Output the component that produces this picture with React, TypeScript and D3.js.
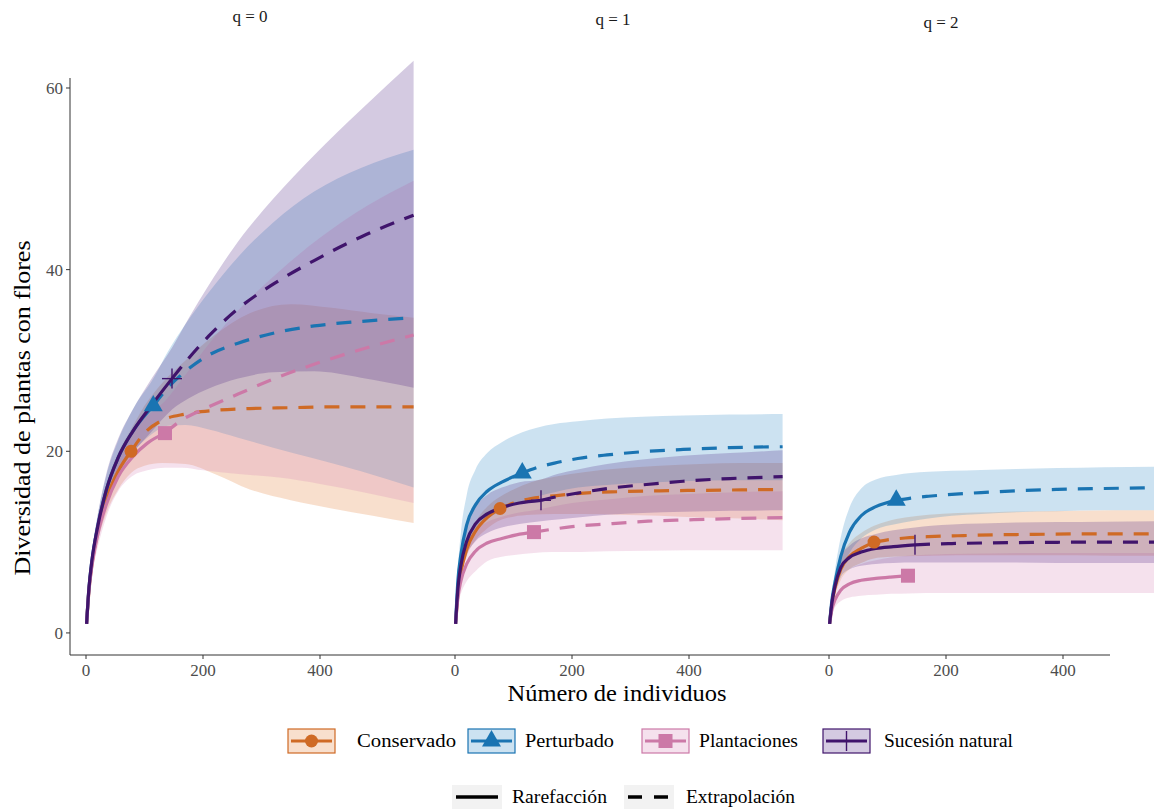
import React from "react";
import * as d3 from "d3";

// ---------- categories / labels ----------
const seriesNames = ["Conservado", "Perturbado", "Plantaciones", "Sucesión natural"];
const seriesColors = ["#CF6A25", "#1A74B2", "#CC79A7", "#40146C"];
const bandColors = ["#E07A2E", "#2A86C6", "#D483B3", "#4A2080"];
const facetLabels = ["q = 0", "q = 1", "q = 2"];
const xTicks = [0, 200, 400];
const yTicks = [0, 20, 40, 60];
const lineTypeLabels = ["Rarefacción", "Extrapolación"];

// ---------- sample sizes (x grids, index of observed point) ----------
const xCons = [1, 5, 10, 20, 35, 55, 77, 100, 130, 170, 220, 280, 350, 420, 490, 560];
const xPert = [1, 5, 10, 20, 35, 55, 80, 115, 140, 170, 210, 260, 320, 390, 470, 560];
const xPlan = [1, 5, 10, 20, 35, 55, 80, 105, 135, 165, 200, 260, 330, 400, 480, 560];
const xSuc = [1, 5, 10, 20, 35, 55, 80, 110, 147, 175, 210, 260, 320, 390, 470, 560];
const obsIndex = [6, 7, 8, 8];

// ---------- q = 0 ----------
const consQ0Est = [1, 4.7, 7.5, 11.2, 14.8, 17.8, 20, 22, 23.4, 24.1, 24.5, 24.7, 24.8, 24.9, 24.9, 24.9];
const consQ0Lo = [1, 4.2, 6.7, 10, 13.2, 15.8, 17.6, 18.4, 18.7, 18.6, 17.5, 15.8, 14.6, 13.7, 12.9, 12.1];
const consQ0Hi = [1, 5.2, 8.3, 12.4, 16.4, 19.8, 22.4, 25, 27.5, 30, 32.8, 35.2, 36.2, 35.8, 35.2, 34.7];
const pertQ0Est = [1, 4.9, 7.9, 11.7, 15.8, 19.3, 22.2, 25, 27, 28.8, 30.6, 31.9, 33, 33.8, 34.3, 34.7];
const pertQ0Lo = [1, 4.4, 7.1, 10.5, 14.2, 17.4, 19.8, 22, 22.8, 22.9, 22.4, 21.5, 20.4, 19.2, 17.8, 16];
const pertQ0Hi = [1, 5.4, 8.7, 12.9, 17.4, 21.2, 24.6, 28, 31, 34, 37.5, 41.4, 45.2, 48.6, 51.2, 53.2];
const planQ0Est = [1, 4.6, 7.3, 10.8, 14.2, 17.2, 19.4, 20.9, 22, 23.5, 24.6, 26.3, 28.2, 29.8, 31.4, 32.8];
const planQ0Lo = [1, 4.1, 6.4, 9.4, 12.8, 15.6, 17.3, 17.9, 18.2, 18.2, 17.9, 17.5, 17.1, 16.4, 15.4, 14.3];
const planQ0Hi = [1, 5.1, 8.2, 12.2, 16.2, 19.7, 22.2, 23.9, 25.5, 28, 31, 35.5, 39.8, 43.5, 47, 49.8];
const sucQ0Est = [1, 4.9, 7.9, 11.7, 15.8, 19.3, 22.2, 24.9, 28, 30.2, 32.7, 35.7, 38.4, 41, 43.6, 46];
const sucQ0Lo = [1, 4.3, 7, 10.4, 14, 17.2, 19.8, 22, 24.6, 25.8, 26.9, 28, 28.7, 28.8, 28.1, 27];
const sucQ0Hi = [1, 5.5, 8.8, 13, 17.6, 21.4, 24.6, 27.8, 31.4, 34.6, 38.3, 43.1, 47.8, 52.6, 57.6, 63];

// ---------- q = 1 ----------
const consQ1Est = [1, 4.3, 6.6, 9.2, 11.2, 12.7, 13.7, 14.3, 14.8, 15.1, 15.4, 15.55, 15.65, 15.7, 15.75, 15.8];
const consQ1Lo = [1, 4, 6.1, 8.4, 10.2, 11.5, 12.4, 12.8, 13, 13.1, 13.1, 13, 12.9, 12.7, 12.6, 12.4];
const consQ1Hi = [1, 4.6, 7.1, 10, 12.2, 13.9, 15, 15.8, 16.6, 17.2, 17.7, 18.1, 18.4, 18.6, 18.7, 18.7];
const pertQ1Est = [1, 5.8, 8.6, 11.9, 14.1, 15.6, 16.6, 17.6, 18.2, 18.7, 19.2, 19.6, 19.95, 20.2, 20.4, 20.5];
const pertQ1Lo = [1, 5, 7.2, 9.5, 11.2, 12.5, 13.5, 14.4, 15, 15.5, 16, 16.3, 16.5, 16.7, 16.8, 16.8];
const pertQ1Hi = [1, 7, 11, 15.2, 18, 19.8, 21, 22.1, 22.6, 23, 23.3, 23.6, 23.8, 23.95, 24.05, 24.1];
const planQ1Est = [1, 3.9, 5.7, 7.6, 9, 9.9, 10.4, 10.8, 11.1, 11.4, 11.7, 12, 12.3, 12.45, 12.6, 12.7];
const planQ1Lo = [1, 3, 4.3, 5.7, 6.8, 7.9, 8.4, 8.6, 8.8, 8.9, 8.9, 9, 9.05, 9.1, 9.1, 9.1];
const planQ1Hi = [1, 4.8, 7.1, 9.5, 11.2, 12.2, 12.8, 13.2, 13.5, 13.9, 14.3, 14.7, 15.1, 15.3, 15.5, 15.6];
const sucQ1Est = [1, 4.9, 7.4, 10.1, 12, 13.1, 13.8, 14.3, 14.6, 15, 15.4, 15.9, 16.3, 16.7, 17, 17.2];
const sucQ1Lo = [1, 4.3, 6.4, 8.6, 10.1, 11, 11.6, 12, 12.3, 12.5, 12.7, 13, 13.2, 13.35, 13.45, 13.5];
const sucQ1Hi = [1, 5.5, 8.4, 11.6, 13.9, 15.2, 16, 16.6, 16.9, 17.5, 18, 18.6, 19.1, 19.5, 19.8, 20.1];

// ---------- q = 2 ----------
const consQ2Est = [1, 3.2, 4.9, 7, 8.4, 9.3, 10, 10.25, 10.45, 10.6, 10.7, 10.8, 10.85, 10.9, 10.9, 10.9];
const consQ2Lo = [1, 2.7, 4.1, 5.8, 7, 7.7, 8.2, 8.35, 8.45, 8.5, 8.55, 8.55, 8.55, 8.55, 8.5, 8.5];
const consQ2Hi = [1, 3.7, 5.8, 8.3, 9.9, 11, 11.8, 12.3, 12.7, 13, 13.2, 13.3, 13.4, 13.45, 13.5, 13.5];
const pertQ2Est = [1, 3.6, 5.5, 8.4, 11.1, 12.9, 13.9, 14.6, 14.85, 15.05, 15.25, 15.45, 15.65, 15.8, 15.9, 16];
const pertQ2Lo = [1, 3, 4.4, 6.7, 8.8, 10.4, 11.4, 12, 12.3, 12.6, 12.9, 13.1, 13.3, 13.4, 13.5, 13.5];
const pertQ2Hi = [1, 4.3, 6.8, 10.5, 13.8, 15.9, 16.9, 17.4, 17.6, 17.75, 17.85, 17.95, 18.05, 18.15, 18.25, 18.3];
const planQ2Est = [1, 2.6, 3.6, 4.7, 5.4, 5.8, 6, 6.15, 6.3, 6.4, 6.5, 6.55, 6.6, 6.6, 6.65, 6.65];
const planQ2Lo = [1, 2, 2.8, 3.5, 3.9, 4.1, 4.2, 4.3, 4.35, 4.4, 4.4, 4.4, 4.4, 4.4, 4.4, 4.4];
const planQ2Hi = [1, 3.2, 4.5, 6, 7, 7.6, 8, 8.3, 8.5, 8.6, 8.7, 8.75, 8.8, 8.8, 8.8, 8.8];
const sucQ2Est = [1, 3.3, 5.1, 7.2, 8.3, 8.9, 9.3, 9.5, 9.7, 9.78, 9.84, 9.9, 9.95, 9.98, 10, 10];
const sucQ2Lo = [1, 2.8, 4.3, 6.1, 7, 7.4, 7.6, 7.7, 7.75, 7.75, 7.75, 7.75, 7.75, 7.7, 7.7, 7.7];
const sucQ2Hi = [1, 3.8, 5.9, 8.3, 9.6, 10.4, 10.9, 11.3, 11.6, 11.8, 11.95, 12.05, 12.15, 12.2, 12.25, 12.3];

// whether extrapolation line is drawn [facet][series]
const showExtrap = [
  [true, true, true, true],
  [true, true, true, true],
  [true, true, false, true],
];

// ---------- assemble ----------
const xGrids = [xCons, xPert, xPlan, xSuc];
const facetData = [
  [
    [consQ0Est, consQ0Lo, consQ0Hi],
    [pertQ0Est, pertQ0Lo, pertQ0Hi],
    [planQ0Est, planQ0Lo, planQ0Hi],
    [sucQ0Est, sucQ0Lo, sucQ0Hi],
  ],
  [
    [consQ1Est, consQ1Lo, consQ1Hi],
    [pertQ1Est, pertQ1Lo, pertQ1Hi],
    [planQ1Est, planQ1Lo, planQ1Hi],
    [sucQ1Est, sucQ1Lo, sucQ1Hi],
  ],
  [
    [consQ2Est, consQ2Lo, consQ2Hi],
    [pertQ2Est, pertQ2Lo, pertQ2Hi],
    [planQ2Est, planQ2Lo, planQ2Hi],
    [sucQ2Est, sucQ2Lo, sucQ2Hi],
  ],
];

const W = 1154;
const H = 810;
const FONT = "'Liberation Serif', 'Times New Roman', serif";
const facetX0 = [86, 455, 829];
const facetTitlePos = [
  [250, 22],
  [613, 25],
  [941, 28],
];
const unitPx = 0.585;

const y = d3.scaleLinear().domain([-2.1, 61.1]).range([652, 78]);
const xScales = facetX0.map((x0) => d3.scaleLinear().domain([0, 560]).range([x0, x0 + 560 * unitPx]));

type Pt = { x: number; est: number; lo: number; hi: number };

function Marker({ i, cx, cy, color }: { i: number; cx: number; cy: number; color: string }) {
  if (i === 0) return <circle cx={cx} cy={cy} r={6.5} fill={color} />;
  if (i === 1) {
    const s = 19;
    const h = (s * Math.sqrt(3)) / 2;
    return (
      <polygon
        points={`${cx},${cy - (2 * h) / 3} ${cx - s / 2},${cy + h / 3} ${cx + s / 2},${cy + h / 3}`}
        fill={color}
      />
    );
  }
  if (i === 2) return <rect x={cx - 7} y={cy - 7} width={14} height={14} fill={color} />;
  return (
    <g stroke={color} strokeWidth={1.4}>
      <line x1={cx - 10} x2={cx + 10} y1={cy} y2={cy} />
      <line x1={cx} x2={cx} y1={cy - 10} y2={cy + 10} />
    </g>
  );
}

export default function App() {
  const bands: React.ReactNode[] = [];
  const lines: React.ReactNode[] = [];
  const markers: React.ReactNode[] = [];

  facetData.forEach((fd, f) => {
    const xs = xScales[f];
    const area = d3
      .area<Pt>()
      .x((d) => xs(d.x))
      .y0((d) => y(d.lo))
      .y1((d) => y(d.hi))
      .curve(d3.curveMonotoneX);
    const line = d3
      .line<Pt>()
      .x((d) => xs(d.x))
      .y((d) => y(d.est))
      .curve(d3.curveMonotoneX);
    fd.forEach((sd, s) => {
      const pts: Pt[] = xGrids[s].map((x, k) => ({ x, est: sd[0][k], lo: sd[1][k], hi: sd[2][k] }));
      const oi = obsIndex[s];
      bands.push(
        <path key={`b${f}${s}`} d={area(pts) || ""} fill={bandColors[s]} fillOpacity={0.24} stroke="none" />
      );
      if (showExtrap[f][s]) {
        lines.push(
          <path
            key={`e${f}${s}`}
            d={line(pts.slice(oi)) || ""}
            fill="none"
            stroke={seriesColors[s]}
            strokeWidth={3.2}
            strokeDasharray="15 11"
          />
        );
      }
      lines.push(
        <path
          key={`r${f}${s}`}
          d={line(pts.slice(0, oi + 1)) || ""}
          fill="none"
          stroke={seriesColors[s]}
          strokeWidth={3.2}
        />
      );
      markers.push(
        <Marker key={`m${f}${s}`} i={s} cx={xs(pts[oi].x)} cy={y(pts[oi].est)} color={seriesColors[s]} />
      );
    });
  });

  const legendKeys = [288, 468, 642, 823];
  const legendText = [357, 525, 699, 884];
  const legendTextLen = [99, 89, 99, 129];
  const legY = 741;

  return (
    <svg width={W} height={H} style={{ position: "absolute", left: 0, top: 0, background: "#fff" }} fontFamily={FONT}>
      <rect x={0} y={0} width={W} height={H} fill="#fff" />
      {/* facet titles */}
      {facetLabels.map((t, f) => (
        <text key={t} x={facetTitlePos[f][0]} y={facetTitlePos[f][1]} fontSize={17} textAnchor="middle" fill="#1a1a1a">
          {t}
        </text>
      ))}
      {bands}
      {lines}
      {markers}
      {/* y axis */}
      <line x1={70} x2={70} y1={78} y2={655} stroke="#333" strokeWidth={1} />
      {yTicks.map((t) => (
        <g key={t}>
          <line x1={66} x2={70} y1={y(t)} y2={y(t)} stroke="#333" />
          <text x={63} y={y(t) + 6} fontSize={17} textAnchor="end" fill="#4d4d4d">
            {t}
          </text>
        </g>
      ))}
      {/* x axis */}
      <line x1={70} x2={1110} y1={655} y2={655} stroke="#333" strokeWidth={1} />
      {xScales.map((xs, f) =>
        xTicks.map((t) => (
          <g key={`${f}-${t}`}>
            <line x1={xs(t)} x2={xs(t)} y1={655} y2={659} stroke="#333" />
            <text x={xs(t)} y={676} fontSize={17} textAnchor="middle" fill="#4d4d4d">
              {t}
            </text>
          </g>
        ))
      )}
      {/* axis titles */}
      <text x={617} y={701} fontSize={23} textAnchor="middle" fill="#000" textLength={219} lengthAdjust="spacingAndGlyphs">
        Número de individuos
      </text>
      <text
        transform="translate(30,408) rotate(-90)"
        fontSize={24}
        textAnchor="middle"
        fill="#000"
        textLength={335}
        lengthAdjust="spacingAndGlyphs"
      >
        Diversidad de plantas con flores
      </text>
      {/* legend row 1 */}
      {seriesNames.map((n, s) => {
        const kx = legendKeys[s];
        return (
          <g key={n}>
            <rect x={kx} y={legY - 12} width={47} height={24} fill={bandColors[s]} fillOpacity={0.24} stroke={seriesColors[s]} strokeWidth={1.2} />
            <line x1={kx + 3} x2={kx + 44} y1={legY} y2={legY} stroke={seriesColors[s]} strokeWidth={3.2} />
            <Marker i={s} cx={kx + 23.5} cy={legY} color={seriesColors[s]} />
            <text x={legendText[s]} y={legY + 6} fontSize={18} fill="#000" textLength={legendTextLen[s]} lengthAdjust="spacingAndGlyphs">
              {n}
            </text>
          </g>
        );
      })}
      {/* legend row 2 */}
      <rect x={452} y={785} width={50} height={24} fill="#f2f2f2" />
      <line x1={456} x2={498} y1={797} y2={797} stroke="#000" strokeWidth={3.5} />
      <text x={512} y={803} fontSize={18} fill="#000" textLength={95} lengthAdjust="spacingAndGlyphs">
        {lineTypeLabels[0]}
      </text>
      <rect x={624} y={785} width={50} height={24} fill="#f2f2f2" />
      <line x1={628} x2={670} y1={797} y2={797} stroke="#000" strokeWidth={3.5} strokeDasharray="14 12" />
      <text x={686} y={803} fontSize={18} fill="#000" textLength={109} lengthAdjust="spacingAndGlyphs">
        {lineTypeLabels[1]}
      </text>
    </svg>
  );
}
